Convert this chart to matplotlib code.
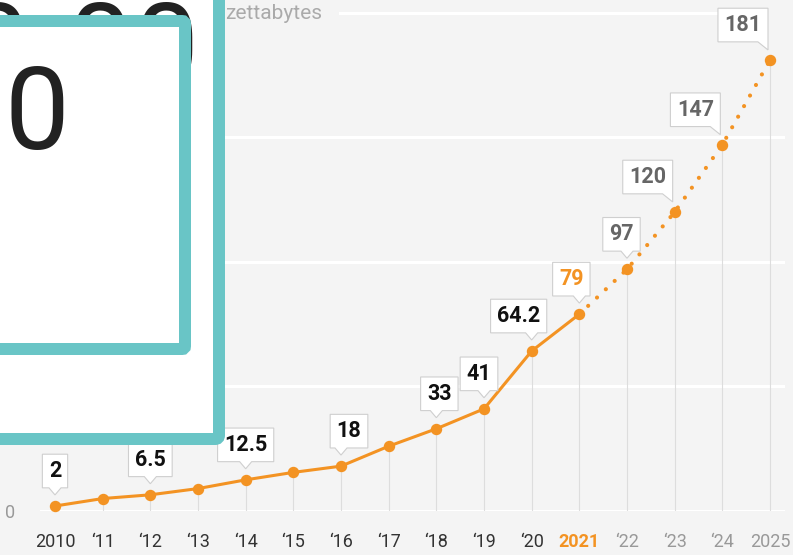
"""Global data volume, 2010-2025, with the teal overlay cards on the left."""

import matplotlib

matplotlib.use("Agg")
import matplotlib.pyplot as plt
from matplotlib.patches import FancyBboxPatch
from matplotlib.path import Path

plt.rcParams["font.family"] = ["Roboto", "DejaVu Sans"]

W, H, DPI = 793, 555, 100

years = [2010, 2011, 2012, 2013, 2014, 2015, 2016, 2017,
         2018, 2019, 2020, 2021, 2022, 2023, 2024, 2025]
zettabytes = [2, 5, 6.5, 9, 12.5, 15.5, 18, 26,
              33, 41, 64.2, 79, 97, 120, 147, 181]
tick_labels = ["2010", "\u201811", "\u201812", "\u201813", "\u201814", "\u201815",
               "\u201816", "\u201817", "\u201818", "\u201819", "\u201820", "2021",
               "\u201822", "\u201823", "\u201824", "2025"]
labeled_years = [2010, 2012, 2014, 2016, 2018, 2019, 2020, 2021,
                 2022, 2023, 2024, 2025]
current_year = 2021

# horizontal shift (px) of each callout box relative to its point
label_shift = {2010: 0, 2012: 0, 2014: 0, 2016: 8, 2018: 3, 2019: -5,
               2020: -13, 2021: -8, 2022: -5.5}

ORANGE = "#f39323"
TEAL = "#69c5c6"
BG = "#f4f4f4"
PADX, PADY = 0.3, 0.27


def callout(tail_dx=0.0, corner=False):
    """Box style with a small pointer under it."""
    def style(x0, y0, width, height, mutation_size):
        px, py = PADX * mutation_size, PADY * mutation_size
        x0, y0 = x0 - px, y0 - py
        x1, y1 = x0 + width + 2 * px, y0 + height + 2 * py
        if corner:
            t = 0.47 * mutation_size
            verts = [(x0, y0), (x1 - t, y0), (x1, y0 - 0.8 * t), (x1, y1),
                     (x0, y1), (x0, y0)]
        else:
            cx = (x0 + x1) / 2 + tail_dx
            hw, d = 0.28 * mutation_size, 0.33 * mutation_size
            verts = [(x0, y0), (cx - hw, y0), (cx, y0 - d), (cx + hw, y0),
                     (x1, y0), (x1, y1), (x0, y1), (x0, y0)]
        return Path(verts, closed=True)
    return style


fig = plt.figure(figsize=(W / DPI, H / DPI), dpi=DPI, facecolor=BG)

px_per_year = (770 - 55) / 15
ax = fig.add_axes([40 / W, (H - 511) / H, 745 / W, 511 / H])
ax.set_facecolor(BG)
ax.set_xlim(2010 - 15 / px_per_year, 2025 + 15 / px_per_year)
ax.set_ylim(0, 511 / 2.4915)
for s in ax.spines.values():
    s.set_visible(False)

for g in (0, 50, 100, 150):
    ax.axhline(g, color="white", lw=2.2, zorder=1)
ax.axhline(200, xmin=0.403, xmax=0.909, color="white", lw=2.2, zorder=1)

ax.vlines(years, 0, zettabytes, color="#dddddd", lw=0.8, zorder=2)

n_act = years.index(current_year) + 1
ax.plot(years[n_act - 1:], zettabytes[n_act - 1:], color=ORANGE, lw=3.0,
        linestyle=(0, (0.01, 2.9)), dash_capstyle="round", zorder=3,
        clip_on=False)
ax.plot(years[:n_act], zettabytes[:n_act], color=ORANGE, lw=2.2, marker="o",
        ms=7.2, zorder=4, clip_on=False)
ax.plot(years[n_act:], zettabytes[n_act:], "o", color=ORANGE, ms=7.2,
        zorder=4, clip_on=False)

fs = 15.5
for yr in labeled_years:
    v = zettabytes[years.index(yr)]
    if yr < current_year:
        col = "#111111"
    elif yr == current_year:
        col = ORANGE
    else:
        col = "#666666"
    if yr in label_shift:
        dx = label_shift[yr]
        ax.annotate(f"{v:g}", xy=(yr, v), xytext=(dx, 35),
                    textcoords="offset pixels", ha="center", va="center",
                    fontsize=fs, fontweight="bold", color=col, zorder=6,
                    bbox=dict(boxstyle=callout(-dx), fc="white",
                              ec="#cfcfcf", lw=0.8))
    else:
        padpx = PADX * fs * DPI / 72
        ax.annotate(f"{v:g}", xy=(yr, v), xytext=(-2 - padpx, 35),
                    textcoords="offset pixels", ha="right", va="center",
                    fontsize=fs, fontweight="bold", color=col, zorder=6,
                    bbox=dict(boxstyle=callout(corner=True), fc="white",
                              ec="#cfcfcf", lw=0.8))

ax.set_xticks(years)
ax.set_xticklabels(tick_labels, fontsize=13)
for lbl, yr in zip(ax.get_xticklabels(), years):
    if yr < current_year:
        lbl.set_color("#333333")
    elif yr == current_year:
        lbl.set_color(ORANGE)
        lbl.set_fontweight("bold")
    else:
        lbl.set_color("#999999")
ax.set_yticks([0])
ax.set_yticklabels(["0"], fontsize=13, color="#999999")
ax.tick_params(axis="x", length=0, pad=16)
ax.tick_params(axis="y", length=0, pad=18)

fig.text(225 / W, 1 - 19 / H, "zettabytes", ha="left", va="baseline",
         fontsize=15, color="#aaaaaa")

# overlay cards, in pixel coordinates
ov = fig.add_axes([0, 0, 1, 1], zorder=10)
ov.set_xlim(0, W)
ov.set_ylim(H, 0)
ov.axis("off")

ov.add_patch(FancyBboxPatch((-30, -30), 249, 469,
                            boxstyle="round,pad=0,rounding_size=4",
                            fc="white", ec=TEAL, lw=8.64, zorder=1))
for cx in (-3, 100, 166):
    ov.text(cx, 85, "0", ha="center", va="baseline", fontsize=83,
            color="#222222", zorder=2)
ov.add_patch(FancyBboxPatch((-30, 21), 215, 328,
                            boxstyle="round,pad=0,rounding_size=3",
                            fc="white", ec=TEAL, lw=8.64, zorder=3))
ov.text(36.5, 149, "0", ha="center", va="baseline", fontsize=83,
        color="#222222", zorder=4)

fig.savefig("out.png", dpi=DPI, facecolor=BG)
